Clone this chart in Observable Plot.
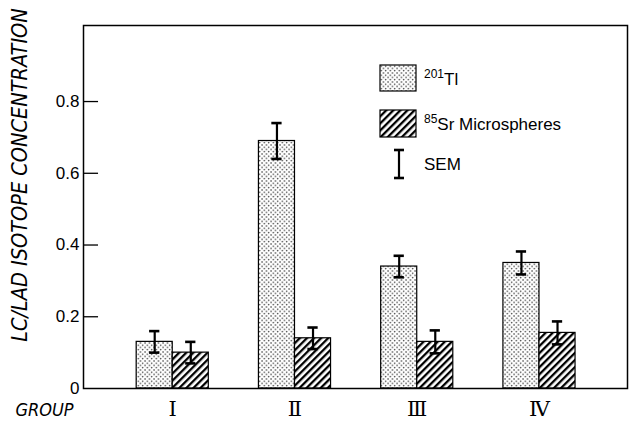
<!DOCTYPE html>
<html><head><meta charset="utf-8">
<script src="https://cdn.jsdelivr.net/npm/d3@7"></script>
<script src="https://cdn.jsdelivr.net/npm/@observablehq/plot@0.6"></script>
<style>html,body{margin:0;padding:0;background:#fff}</style>
</head><body><div id="chart"></div>
<script>
// ---- data ----
const groups = ["I", "II", "III", "IV"];
const groupLabels = ["Ⅰ", "Ⅱ", "Ⅲ", "Ⅳ"];
const tlValues = [0.13, 0.69, 0.34, 0.35];
const tlSem = [0.03, 0.05, 0.03, 0.032];
const srValues = [0.10, 0.14, 0.13, 0.155];
const srSem = [0.03, 0.03, 0.032, 0.032];
const yTicks = [0, 0.2, 0.4, 0.6, 0.8];

// ---- table ----
const rows = [];
groups.forEach((g, i) => {
  rows.push({gi: i, series: "Tl", value: tlValues[i], sem: tlSem[i]});
  rows.push({gi: i, series: "Sr", value: srValues[i], sem: srSem[i]});
});
const tl = rows.filter(d => d.series === "Tl");
const sr = rows.filter(d => d.series === "Sr");

const w = 0.295;      // bar width in group units
const cap = 0.042;    // error-bar cap half width
const x0 = -0.73, x1max = 3.72;
const cx = d => d.series === "Tl" ? d.gi - w / 2 : d.gi + w / 2;
const narrow = '"Liberation Sans Narrow", "DejaVu Sans Condensed", "Liberation Sans", sans-serif';

const plot = Plot.plot({
  width: 630, height: 432,
  marginLeft: 83, marginRight: 3, marginTop: 25, marginBottom: 44,
  style: {background: "white", color: "black", fontFamily: '"Liberation Sans", Arial, sans-serif', overflow: "visible"},
  x: {type: "linear", domain: [x0, x1max]},
  y: {domain: [0, 1.012]},
  marks: [
    Plot.rectY(tl, {x1: d => d.gi - w, x2: d => d.gi, y: "value", fill: "url(#dots)", stroke: "black", strokeWidth: 1.2}),
    Plot.rectY(sr, {x1: d => d.gi, x2: d => d.gi + w, y: "value", fill: "url(#hatch)", stroke: "black", strokeWidth: 1.2}),
    Plot.ruleX(rows, {x: cx, y1: d => d.value - d.sem, y2: d => d.value + d.sem, strokeWidth: 2.2}),
    Plot.ruleY(rows, {y: d => d.value + d.sem, x1: d => cx(d) - cap, x2: d => cx(d) + cap, strokeWidth: 2.6}),
    Plot.ruleY(rows, {y: d => d.value - d.sem, x1: d => cx(d) - cap, x2: d => cx(d) + cap, strokeWidth: 2.6}),
    Plot.ruleY(yTicks.filter(t => t > 0), {y: d => d, x1: x0, x2: x0 + 0.123, strokeWidth: 1.3}),
    Plot.frame({stroke: "black", strokeWidth: 1.5}),
    Plot.axisY({ticks: yTicks, tickSize: 0, tickPadding: 4, fontSize: 17, label: null,
      tickFormat: d => d === 0 ? "0" : d.toFixed(1)}),
    Plot.axisX({ticks: [0, 1, 2, 3], tickSize: 0, tickPadding: 13, fontSize: 21, label: null,
      fontFamily: '"DejaVu Serif", "Liberation Serif", serif', tickFormat: i => groupLabels[i]}),
    Plot.text(["LC/LAD ISOTOPE CONCENTRATION"], {text: d => d, frameAnchor: "left", textAnchor: "middle", rotate: -90,
      dx: -63, dy: -32, fontSize: 21.5, fontStyle: "italic", fontFamily: narrow}),
    Plot.text(["GROUP"], {text: d => d, frameAnchor: "bottom-left", textAnchor: "middle", dx: -39, dy: 27,
      fontSize: 18, fontStyle: "italic", fontFamily: narrow})
  ]
});

const svg = d3.select(plot);
svg.insert("defs", ":first-child").html(`
  <pattern id="dots" patternUnits="userSpaceOnUse" width="4.5" height="4.5">
    <rect width="4.5" height="4.5" fill="white"/>
    <circle cx="1" cy="1" r="0.75" fill="#222"/>
    <circle cx="3.25" cy="3.25" r="0.75" fill="#222"/>
  </pattern>
  <pattern id="hatch" patternUnits="userSpaceOnUse" width="5" height="5" patternTransform="rotate(45)">
    <rect width="5" height="5" fill="white"/>
    <rect x="0" y="0" width="2.3" height="5" fill="black"/>
  </pattern>`);

// legend
const lg = svg.append("g").attr("font-family", '"Liberation Sans", Arial, sans-serif')
  .attr("fill", "black").attr("text-anchor", "start");
lg.append("rect").attr("x", 380).attr("y", 65).attr("width", 36).attr("height", 26)
  .attr("fill", "url(#dots)").attr("stroke", "black").attr("stroke-width", 1.2);
lg.append("rect").attr("x", 380).attr("y", 110).attr("width", 36).attr("height", 27)
  .attr("fill", "url(#hatch)").attr("stroke", "black").attr("stroke-width", 1.2);
const t1 = lg.append("text").attr("x", 424).attr("y", 85).attr("font-size", 17);
t1.append("tspan").attr("font-size", 12).attr("dy", -7).text("201");
t1.append("tspan").attr("dy", 7).text("Tl");
const t2 = lg.append("text").attr("x", 424).attr("y", 130).attr("font-size", 17);
t2.append("tspan").attr("font-size", 12).attr("dy", -7).text("85");
t2.append("tspan").attr("dy", 7).text("Sr Microspheres");
lg.append("line").attr("x1", 399).attr("x2", 399).attr("y1", 150).attr("y2", 178).attr("stroke", "black").attr("stroke-width", 2.2);
lg.append("line").attr("x1", 394).attr("x2", 404).attr("y1", 150).attr("y2", 150).attr("stroke", "black").attr("stroke-width", 2.6);
lg.append("line").attr("x1", 394).attr("x2", 404).attr("y1", 178).attr("y2", 178).attr("stroke", "black").attr("stroke-width", 2.6);
lg.append("text").attr("x", 424).attr("y", 170).attr("font-size", 17).text("SEM");

document.getElementById("chart").appendChild(plot);
</script>
</body></html>
